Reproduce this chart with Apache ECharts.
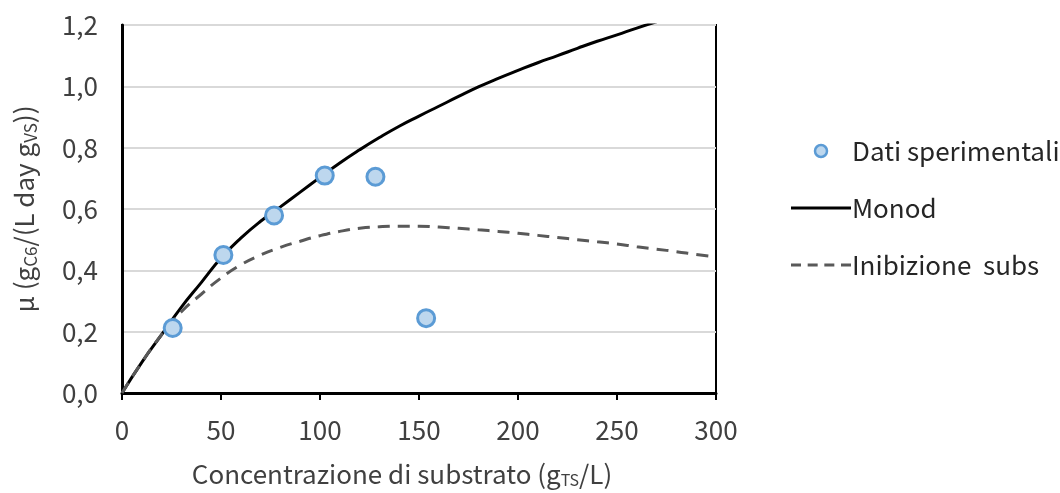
<!DOCTYPE html>
<html>
<head>
<meta charset="utf-8">
<script src="https://cdn.jsdelivr.net/npm/echarts@6/dist/echarts.min.js"></script>
<style>html,body{margin:0;padding:0;background:#fff;}#c{width:1060px;height:493px;}</style>
</head>
<body>
<div id="c"></div>
<script>
// Experimental data
var expX = [25.6, 51.2, 76.8, 102.4, 128, 153.6];
var expY = [0.212, 0.450, 0.579, 0.709, 0.705, 0.244];
// Monod model curve
var monodX = [0, 10, 20, 30, 40, 50, 60, 70, 80, 90, 100, 110, 120, 130, 140, 150, 160, 170, 180, 190, 200, 210, 220, 230, 240, 250, 260, 270];
var monodY = [0, 0.10, 0.19, 0.28, 0.36, 0.44, 0.505, 0.56, 0.607, 0.655, 0.703, 0.75, 0.793, 0.833, 0.87, 0.903, 0.935, 0.967, 0.998, 1.026, 1.052, 1.077, 1.10, 1.124, 1.147, 1.168, 1.19, 1.21];
// Substrate inhibition curve
var inibX = [0, 10, 20, 30, 40, 50, 60, 70, 80, 90, 100, 110, 120, 130, 140, 150, 160, 170, 180, 190, 200, 210, 220, 230, 240, 250, 260, 270, 280, 290, 300];
var inibY = [0, 0.10, 0.19, 0.265, 0.322, 0.375, 0.418, 0.45, 0.475, 0.495, 0.513, 0.527, 0.537, 0.542, 0.544, 0.544, 0.541, 0.537, 0.532, 0.527, 0.521, 0.514, 0.507, 0.5, 0.493, 0.486, 0.477, 0.469, 0.461, 0.452, 0.444];
var xTicks = [0, 50, 100, 150, 200, 250, 300];
var yTicks = [0, 0.2, 0.4, 0.6, 0.8, 1.0, 1.2];

function zip(a, b) { return a.map(function (v, i) { return [v, b[i]]; }); }

var FONT = '"Noto Sans CJK JP", "Noto Sans", sans-serif';
var TXT = '#404040';
var chart = echarts.init(document.getElementById('c'), null, { renderer: 'canvas' });
chart.setOption({
  animation: false,
  backgroundColor: '#fff',
  textStyle: { fontFamily: FONT },
  grid: { left: 122, right: 344, top: 25, bottom: 95, show: true, borderColor: '#000', borderWidth: 2, containLabel: false },
  xAxis: {
    type: 'value', min: xTicks[0], max: xTicks[xTicks.length - 1], interval: 50,
    axisLine: { show: true, lineStyle: { color: '#000', width: 3 } },
    axisTick: { show: true, length: 7, lineStyle: { color: '#000', width: 2 } },
    splitLine: { show: false },
    axisLabel: { color: TXT, fontSize: 26, margin: 24, fontFamily: FONT },
    name: 'Concentrazione di substrato (g{s|TS}/L)',
    nameLocation: 'middle', nameGap: 67,
    nameTextStyle: {
      color: TXT, fontSize: 26, fontFamily: FONT, padding: [0, 34, 0, 0],
      rich: { s: { fontSize: 16, verticalAlign: 'bottom', padding: [12, 0, 0, 0], color: TXT, fontFamily: FONT } }
    }
  },
  yAxis: {
    type: 'value', min: yTicks[0], max: yTicks[yTicks.length - 1], interval: 0.2,
    axisLine: { show: true, lineStyle: { color: '#000', width: 3 } },
    axisTick: { show: false },
    splitLine: { show: true, lineStyle: { color: '#d9d9d9', width: 2 } },
    axisLabel: { color: TXT, fontSize: 26, margin: 24, fontFamily: FONT,
      formatter: function (v) { return v.toFixed(1).replace('.', ','); } },
    name: 'μ (g{s|C6}/(L day g{s|VS}))',
    nameLocation: 'middle', nameGap: 83, nameRotate: 90,
    nameTextStyle: {
      color: TXT, fontSize: 26, fontFamily: FONT,
      rich: { s: { fontSize: 17, verticalAlign: 'bottom', padding: [12, 0, 0, 0], color: TXT, fontFamily: FONT } }
    }
  },
  legend: {
    orient: 'vertical', left: 786, top: 133,
    itemWidth: 60, itemHeight: 12, itemGap: 31,
    textStyle: { color: '#262626', fontSize: 26, fontFamily: FONT, padding: [0, 0, 0, -4] },
    data: [
      { name: 'Dati sperimentali', icon: 'circle', itemStyle: { color: '#bdd7ee', borderColor: '#5b9bd5', borderWidth: 2.5 } },
      { name: 'Monod', icon: 'path://M0,0H60V3H0Z', itemStyle: { color: '#000', borderWidth: 0 } },
      { name: 'Inibizione  subs', icon: 'path://M0,0H10V3H0Z M16.67,0H26.67V3H16.67Z M33.33,0H43.33V3H33.33Z M50,0H60V3H50Z', itemStyle: { color: '#595959', borderWidth: 0 } }
    ]
  },
  series: [
    {
      name: 'Monod', type: 'line', data: zip(monodX, monodY), smooth: true, symbol: 'none', clip: true,
      lineStyle: { color: '#000', width: 3 }, itemStyle: { color: '#000' }, z: 2
    },
    {
      name: 'Inibizione  subs', type: 'line', data: zip(inibX, inibY), smooth: true, symbol: 'none', clip: true,
      lineStyle: { color: '#595959', width: 3, type: [12, 8] }, itemStyle: { color: '#595959' }, z: 2
    },
    {
      name: 'Dati sperimentali', type: 'scatter', data: zip(expX, expY), symbol: 'circle', symbolSize: 17,
      itemStyle: { color: '#bdd7ee', borderColor: '#5b9bd5', borderWidth: 3, opacity: 1 }, z: 5
    }
  ]
});
</script>
</body>
</html>
